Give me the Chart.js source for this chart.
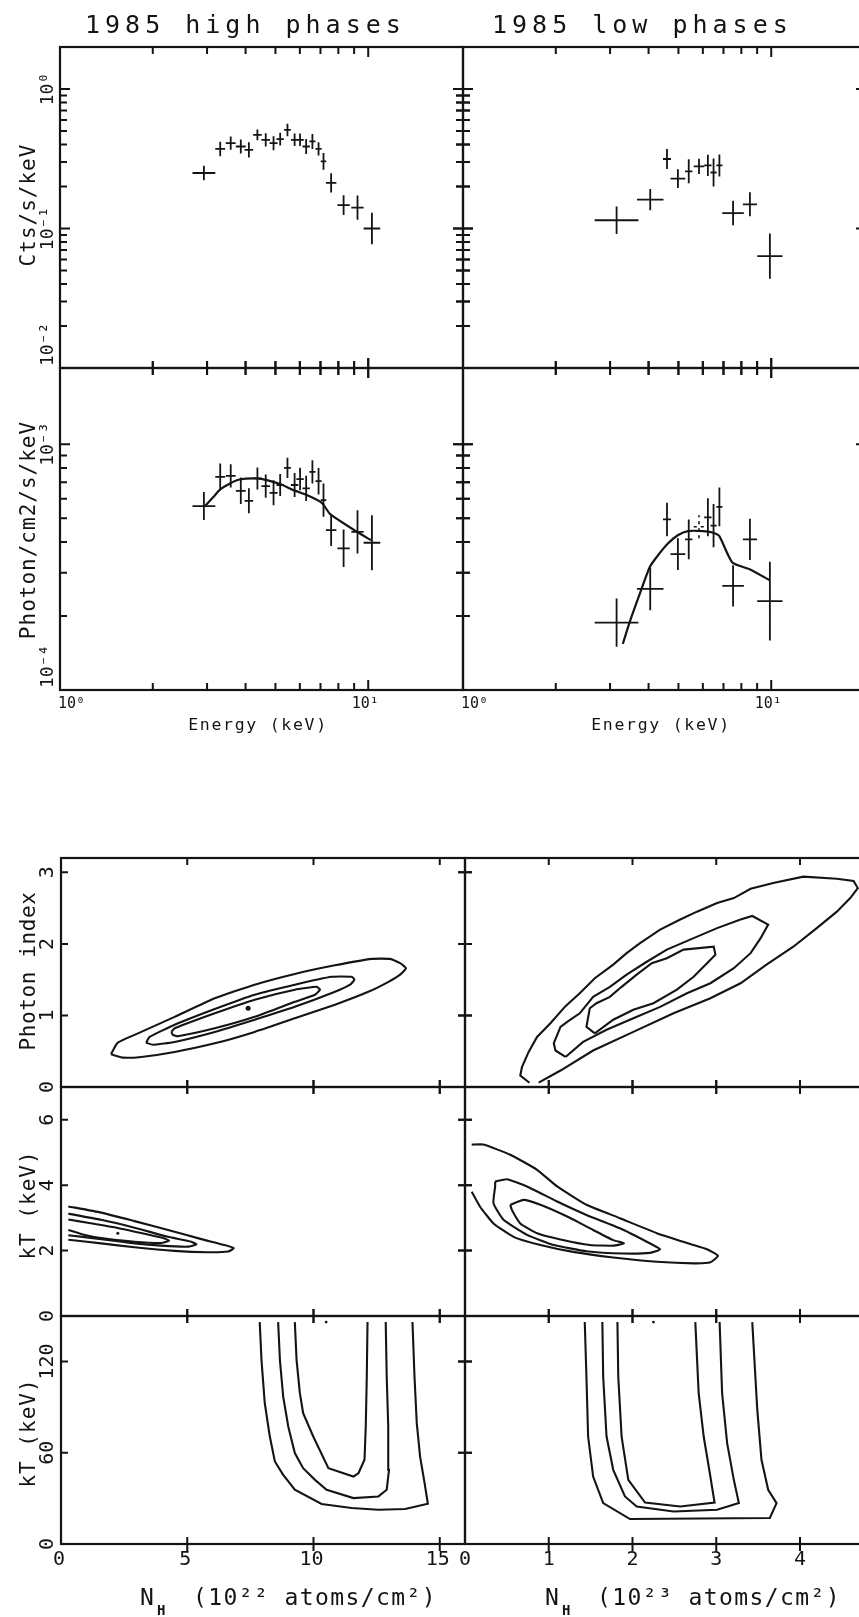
<!DOCTYPE html>
<html>
<head>
<meta charset="utf-8">
<title>1985 high / low phases</title>
<script src="https://cdn.jsdelivr.net/npm/chart.js@4.4.0/dist/chart.umd.min.js"></script>
<style>
  html, body { margin: 0; padding: 0; background: #fff; overflow: hidden; }
  #wrap { position: relative; width: 859px; height: 1617px; overflow: hidden; background: #fff; }
  #wrap canvas { position: absolute; left: 0; top: 0; }
</style>
</head>
<body>
<div id="wrap"></div>
<script>
'use strict';

/* ──────────────────────────────────────────────
   Spectra, 1985 high phases (energy in keV, errors in dex)
────────────────────────────────────────────── */
const hiEnergy    = [2.93, 3.31, 3.58, 3.86, 4.10, 4.37, 4.65, 4.93, 5.18, 5.47, 5.77, 6.01, 6.29, 6.59, 6.90, 7.16, 7.58, 8.32, 9.23, 10.28];
const hiEnergyErr = [0.037, 0.016, 0.016, 0.016, 0.014, 0.014, 0.014, 0.013, 0.012, 0.011, 0.012, 0.012, 0.012, 0.010, 0.010, 0.009, 0.017, 0.020, 0.020, 0.027];
const hiCounts    = [0.250, 0.372, 0.409, 0.387, 0.366, 0.469, 0.432, 0.409, 0.437, 0.509, 0.432, 0.432, 0.387, 0.421, 0.372, 0.303, 0.212, 0.147, 0.141, 0.100];
const hiCountsErr = [0.052, 0.052, 0.048, 0.050, 0.054, 0.038, 0.048, 0.050, 0.045, 0.045, 0.045, 0.045, 0.054, 0.054, 0.048, 0.060, 0.069, 0.071, 0.087, 0.113];
const hiFlux      = [5.60e-4, 7.36e-4, 7.43e-4, 6.46e-4, 5.88e-4, 7.25e-4, 6.75e-4, 6.34e-4, 6.82e-4, 8.01e-4, 6.82e-4, 7.21e-4, 6.61e-4, 7.71e-4, 7.07e-4, 5.92e-4, 4.47e-4, 3.77e-4, 4.40e-4, 3.97e-4];
const hiFluxErr   = [0.057, 0.054, 0.047, 0.054, 0.051, 0.045, 0.047, 0.051, 0.045, 0.041, 0.049, 0.046, 0.051, 0.047, 0.054, 0.068, 0.065, 0.076, 0.088, 0.112];
const hiModelE    = [2.96, 3.15, 3.31, 3.56, 3.82, 4.35, 4.69, 5.18, 5.72, 6.32, 7.07, 7.53, 9.19, 10.2];
const hiModelFlux = [5.61e-4, 6.11e-4, 6.54e-4, 6.92e-4, 7.18e-4, 7.25e-4, 7.14e-4, 6.88e-4, 6.50e-4, 6.21e-4, 5.77e-4, 5.19e-4, 4.40e-4, 4.07e-4];

/* Spectra, 1985 low phases */
const loEnergy    = [3.15, 4.05, 4.59, 4.98, 5.40, 5.83, 6.23, 6.50, 6.79, 7.52, 8.53, 9.90];
const loEnergyErr = [0.071, 0.043, 0.013, 0.024, 0.012, 0.017, 0.012, 0.010, 0.010, 0.035, 0.023, 0.041];
const loCounts    = [0.1146, 0.161, 0.315, 0.228, 0.257, 0.279, 0.283, 0.252, 0.283, 0.129, 0.149, 0.0634];
const loCountsErr = [0.098, 0.076, 0.071, 0.067, 0.086, 0.055, 0.076, 0.100, 0.079, 0.088, 0.086, 0.162];
const loFlux      = [1.88e-4, 2.58e-4, 4.94e-4, 3.57e-4, 4.10e-4, 4.61e-4, 5.04e-4, 4.66e-4, 5.56e-4, 2.65e-4, 4.10e-4, 2.30e-4];
const loFluxErr   = [0.098, 0.087, 0.068, 0.065, 0.081, 0.047, 0.077, 0.088, 0.079, 0.084, 0.084, 0.160];
const loFluxFaint = [5];   // the badly printed bin
const loModelE    = [3.30, 3.48, 3.75, 4.04, 4.30, 4.63, 4.99, 5.37, 6.01, 6.40, 6.77, 7.48, 8.51, 9.87];
const loModelFlux = [1.54e-4, 1.90e-4, 2.47e-4, 3.17e-4, 3.54e-4, 3.95e-4, 4.27e-4, 4.43e-4, 4.43e-4, 4.38e-4, 4.24e-4, 3.30e-4, 3.10e-4, 2.80e-4];

/* ──────────────────────────────────────────────
   Confidence contours [NH, parameter]
────────────────────────────────────────────── */
// photon index vs NH (1e22), high phases
const piHiOuter = [[1.98,0.46],[2.25,0.62],[3.18,0.77],[4.50,0.98],[6.09,1.24],[7.67,1.43],[9.26,1.58],[10.85,1.70],[12.31,1.79],[13.03,1.79],[13.43,1.73],[13.66,1.66],[13.43,1.57],[12.97,1.47],[12.17,1.33],[10.85,1.15],[9.26,0.96],[7.67,0.77],[6.09,0.61],[4.50,0.49],[3.18,0.42],[2.45,0.41],[2.05,0.45]];
const piHiMid   = [[3.37,0.62],[3.51,0.70],[4.50,0.87],[6.09,1.09],[7.67,1.29],[9.26,1.43],[10.72,1.54],[11.51,1.54],[11.62,1.50],[11.45,1.43],[10.85,1.33],[9.26,1.12],[7.67,0.94],[6.09,0.77],[4.50,0.63],[3.64,0.59]];
const piHiIn    = [[4.37,0.77],[4.50,0.82],[6.09,1.03],[7.67,1.22],[9.26,1.36],[10.12,1.40],[10.26,1.36],[10.06,1.29],[9.26,1.19],[7.67,0.98],[6.09,0.82],[4.63,0.71],[4.43,0.73]];
const piHiBest  = [[7.41,1.10]];

// photon index vs NH (1e23), low phases
const piLoOuter = [[0.77,0.06],[0.66,0.16],[0.68,0.28],[0.76,0.49],[0.86,0.70],[1.02,0.89],[1.20,1.13],[1.37,1.31],[1.55,1.52],[1.77,1.71],[1.93,1.87],[2.09,2.01],[2.33,2.20],[2.57,2.34],[2.77,2.45],[3.01,2.57],[3.21,2.64],[3.41,2.77],[3.68,2.85],[4.04,2.94],[4.44,2.91],[4.64,2.88],[4.69,2.78],[4.60,2.64],[4.44,2.45],[4.20,2.22],[3.92,1.96],[3.60,1.71],[3.29,1.45],[2.93,1.24],[2.49,1.03],[2.01,0.77],[1.53,0.51],[1.14,0.23],[0.88,0.06]];
const piLoMid   = [[1.20,0.42],[1.08,0.51],[1.06,0.61],[1.14,0.84],[1.22,0.91],[1.37,1.03],[1.53,1.26],[1.73,1.40],[1.93,1.57],[2.17,1.75],[2.41,1.92],[2.73,2.08],[3.01,2.22],[3.29,2.34],[3.43,2.39],[3.62,2.27],[3.53,2.08],[3.41,1.87],[3.21,1.66],[2.93,1.45],[2.65,1.31],[2.33,1.12],[2.01,0.96],[1.69,0.80],[1.41,0.63]];
const piLoIn    = [[1.55,0.75],[1.45,0.84],[1.49,1.10],[1.57,1.17],[1.73,1.26],[1.87,1.40],[2.05,1.57],[2.23,1.73],[2.41,1.80],[2.61,1.92],[2.97,1.96],[2.99,1.85],[2.89,1.73],[2.73,1.54],[2.53,1.36],[2.25,1.17],[2.01,1.08],[1.77,0.94]];

// kT (0-7 keV) vs NH, high phases
const ktHiOuter = [[0.29,3.35],[1.59,3.16],[2.91,2.90],[4.24,2.63],[5.56,2.35],[6.48,2.17],[6.84,2.07],[6.62,1.97],[5.82,1.95],[4.50,1.99],[2.91,2.10],[1.59,2.22],[0.29,2.33]];
const ktHiMid   = [[0.29,3.13],[1.59,2.94],[2.91,2.70],[4.24,2.42],[5.16,2.27],[5.36,2.19],[5.03,2.12],[3.97,2.15],[2.91,2.22],[1.59,2.35],[0.29,2.47]];
const ktHiIn    = [[0.29,2.95],[1.06,2.85],[2.25,2.69],[3.44,2.49],[4.10,2.37],[4.28,2.30],[3.97,2.23],[2.91,2.27],[1.59,2.38],[0.82,2.50],[0.29,2.63]];
const ktHiBest  = [[2.25,2.53]];

// kT (0-7 keV) vs NH, low phases
const ktLoOuter = [[0.08,5.24],[0.22,5.24],[0.54,4.93],[0.86,4.47],[1.10,3.96],[1.45,3.40],[1.85,2.99],[2.29,2.53],[2.69,2.20],[2.89,2.04],[3.02,1.84],[2.93,1.64],[2.73,1.61],[2.29,1.66],[1.77,1.79],[1.29,1.96],[0.90,2.17],[0.58,2.42],[0.34,2.83],[0.18,3.34],[0.08,3.80]];
const ktLoMid   = [[0.36,4.11],[0.50,4.18],[0.74,3.96],[1.10,3.50],[1.45,3.09],[1.85,2.68],[2.17,2.27],[2.33,2.04],[2.21,1.93],[1.89,1.91],[1.45,1.98],[1.06,2.17],[0.74,2.48],[0.46,2.94],[0.34,3.45],[0.36,3.96]];
const ktLoIn    = [[0.54,3.40],[0.70,3.55],[0.90,3.40],[1.22,3.04],[1.53,2.63],[1.77,2.32],[1.90,2.22],[1.77,2.15],[1.49,2.17],[1.14,2.34],[0.86,2.53],[0.66,2.83],[0.56,3.24]];

// kT (0-150 keV) vs NH, high phases
const kthHiOuter = [[7.87,146],[7.94,121],[8.07,92.6],[8.27,70.7],[8.47,54.3],[8.80,45.5],[9.26,35.7],[10.32,26.3],[11.51,23.7],[12.57,22.5],[13.63,23.0],[14.53,26.5],[14.40,40.1],[14.22,57.6],[14.09,79.5],[14.00,110],[13.92,146]];
const kthHiMid   = [[8.60,146],[8.67,121],[8.80,97],[9.00,77.3],[9.26,59.8],[9.59,49.9],[10.06,42.2],[10.52,35.7],[11.58,30.2],[12.57,31.3],[12.90,35.7],[12.99,48.8],[12.96,77.3],[12.90,110],[12.86,146]];
const kthHiIn    = [[9.26,146],[9.33,121],[9.46,99.2],[9.59,86.1],[9.99,70.7],[10.59,49.9],[11.58,44.4],[11.78,46.6],[12.02,55.4],[12.07,77.3],[12.11,110],[12.14,146]];
const kthHiBest  = [[10.5,146]];

// kT (0-150 keV) vs NH, low phases
const kthLoOuter = [[1.43,146],[1.45,110],[1.47,70.7],[1.53,44.4],[1.65,26.9],[1.97,16.4],[3.64,17.1],[3.72,26.9],[3.62,35.7],[3.54,55.4],[3.49,88.2],[3.43,146]];
const kthLoMid   = [[1.64,146],[1.65,110],[1.69,70.7],[1.77,48.8],[1.91,31.3],[2.05,24.7],[2.49,21.4],[3.01,22.5],[3.27,26.9],[3.21,42.2],[3.13,66.4],[3.07,99.2],[3.04,146]];
const kthLoIn    = [[1.82,146],[1.83,110],[1.87,70.7],[1.95,42.2],[2.15,27.3],[2.57,24.7],[2.98,27.3],[2.91,51.0],[2.85,70.7],[2.79,99.2],[2.75,146]];
const kthLoBest  = [[2.25,146]];

/* ──────────────────────────────────────────────
   Ticks and tick labels
────────────────────────────────────────────── */
const eMinor      = [2, 3, 4, 5, 6, 7, 8, 9];
const eMajor      = [10];
const eLabelVals  = [1, 10];
const eLabels     = ['10⁰', '10¹'];
const ctsMinor    = [0.02, 0.03, 0.04, 0.05, 0.06, 0.07, 0.08, 0.09, 0.2, 0.3, 0.4, 0.5, 0.6, 0.7, 0.8, 0.9];
const ctsMajor    = [0.1, 1];
const ctsLabelVals = [0.01, 0.1, 1];
const ctsLabels   = ['10⁻²', '10⁻¹', '10⁰'];
const fluxMinor   = [2e-4, 3e-4, 4e-4, 5e-4, 6e-4, 7e-4, 8e-4, 9e-4];
const fluxMajor   = [1e-3];
const fluxLabelVals = [1e-4, 1e-3];
const fluxLabels  = ['10⁻⁴', '10⁻³'];
const nhHiTicks   = [0, 5, 10, 15];
const nhLoTicks   = [0, 1, 2, 3, 4];
const piTicks     = [0, 1, 2, 3];
const ktTicks     = [0, 2, 4, 6];
const kthTicks    = [0, 60, 120];

/* ──────────────────────────────────────────────
   Look
────────────────────────────────────────────── */
const PAGE_W = 880, PAGE_H = 1617;
const INK = '#141414';
const MONO = '"DejaVu Sans Mono", "Liberation Mono", monospace';
const wrap = document.getElementById('wrap');

const specX = { type: 'logarithmic', min: 1, max: 20.3 };
const ctsY  = { type: 'logarithmic', min: 0.01, max: 2 };
const fluxY = { type: 'logarithmic', min: 1e-4, max: 2.04e-3 };
const nhHiX = { type: 'linear', min: 0, max: 16 };
const nhLoX = { type: 'linear', min: 0, max: 4.8 };
const piY   = { type: 'linear', min: 0, max: 3.2 };
const ktY   = { type: 'linear', min: 0, max: 7 };
const kthY  = { type: 'linear', min: 0, max: 150 };

// error crosses: one broken line, each bar separated by a null gap
function crosses(xs, xdex, ys, ydex, pick) {
    const pts = [];
    xs.forEach(function (x, i) {
        if (pick && !pick(i)) return;
        const fx = Math.pow(10, xdex[i]), fy = Math.pow(10, ydex[i]);
        pts.push({ x: x / fx, y: ys[i] }, { x: x * fx, y: ys[i] }, { x: x, y: null });
        pts.push({ x: x, y: ys[i] / fy }, { x: x, y: ys[i] * fy }, { x: x, y: null });
    });
    return pts;
}
const pairs = (xs, ys) => xs.map((x, i) => ({ x: x, y: ys[i] }));
function curve(pts, closed) {
    const d = pts.map(p => ({ x: p[0], y: p[1] }));
    if (closed) d.push({ x: pts[0][0], y: pts[0][1] });
    return d;
}
function lineSet(data, width, tension, dash) {
    return {
        data: data, showLine: true, borderColor: INK, borderWidth: width,
        borderDash: dash || [], pointRadius: 0, tension: tension || 0,
        spanGaps: false, fill: false, borderCapStyle: 'butt'
    };
}
function dotSet(pts, r) {
    return { data: curve(pts), showLine: false, pointRadius: r, pointBackgroundColor: INK, pointBorderWidth: 0 };
}

function text(ctx, s, x, y, font, o) {
    o = o || {};
    ctx.save();
    ctx.fillStyle = INK;
    ctx.font = font + ' ' + MONO;
    if ('letterSpacing' in ctx) ctx.letterSpacing = o.ls || '0px';
    ctx.textAlign = o.align || 'center';
    ctx.textBaseline = 'alphabetic';
    ctx.translate(x, y);
    if (o.rot) ctx.rotate(-Math.PI / 2);
    ctx.fillText(s, 0, 0);
    ctx.restore();
}

// frame, ticks and labels of one paper-style panel
function axesPlugin(cfg) {
    return {
        id: 'paperAxes',
        afterDatasetsDraw(chart) {
            const ctx = chart.ctx, a = chart.chartArea;
            const sx = chart.scales.x, sy = chart.scales.y, s = cfg.sides;
            ctx.save();
            ctx.strokeStyle = INK;
            ctx.lineWidth = 2.2;
            ctx.strokeRect(a.left, a.top, a.right - a.left, a.bottom - a.top);

            ctx.beginPath();
            ctx.lineWidth = 2;
            const tickX = (vals, len) => vals.forEach(function (v) {
                const p = sx.getPixelForValue(v);
                if (s.top)    { ctx.moveTo(p, a.top + len);    ctx.lineTo(p, s.top === 'both' ? a.top - len : a.top); }
                if (s.bottom) { ctx.moveTo(p, a.bottom - len); ctx.lineTo(p, s.bottom === 'both' ? a.bottom + len : a.bottom); }
            });
            const tickY = (vals, len) => vals.forEach(function (v) {
                const p = sy.getPixelForValue(v);
                if (s.left)  { ctx.moveTo(a.left + len, p);  ctx.lineTo(s.left === 'both' ? a.left - len : a.left, p); }
                if (s.right) { ctx.moveTo(a.right - len, p); ctx.lineTo(s.right === 'both' ? a.right + len : a.right, p); }
            });
            tickX(cfg.xMinor || [], cfg.len[0]);
            tickX(cfg.xMajor || [], cfg.len[1]);
            tickY(cfg.yMinor || [], cfg.len[0]);
            tickY(cfg.yMajor || [], cfg.len[1]);
            ctx.stroke();

            if (cfg.yLabels) {
                const L = cfg.yLabels;
                L.vals.forEach(function (v, i) {
                    let p = sy.getPixelForValue(v), align = 'center';
                    if (L.edge && i === 0) { p -= 2; align = 'left'; }
                    text(ctx, L.text[i], L.x, p, L.font, { rot: true, align: align, ls: L.ls });
                });
            }
            if (cfg.xLabels) {
                const L = cfg.xLabels;
                L.vals.forEach(function (v, i) {
                    let p = sx.getPixelForValue(v) + (L.dx || 0), align = 'center';
                    if (L.firstLeft && i === 0) { p = a.left - 2; align = 'left'; }
                    text(ctx, L.text[i], p, L.y, L.font, { align: align });
                });
            }
            (cfg.texts || []).forEach(t => text(ctx, t.s, t.x, t.y, t.font, t));
            ctx.restore();
        }
    };
}

function panel(rect, xScale, yScale, datasets, cfg) {
    const cv = document.createElement('canvas');
    cv.width = PAGE_W; cv.height = PAGE_H;
    wrap.appendChild(cv);
    return new Chart(cv, {
        type: 'scatter',
        data: { datasets: datasets },
        options: {
            responsive: false,
            animation: false,
            events: [],
            layout: { padding: { left: rect[0], top: rect[1], right: PAGE_W - rect[2], bottom: PAGE_H - rect[3] } },
            plugins: { legend: { display: false }, tooltip: { enabled: false } },
            scales: {
                x: Object.assign({ display: false }, xScale),
                y: Object.assign({ display: false }, yScale)
            }
        },
        plugins: [axesPlugin(cfg)]
    });
}

/* ──────────────────────────────────────────────
   Spectra panels
────────────────────────────────────────────── */
const SPEC_LEN = [7, 10];

panel([60, 47, 463, 368], specX, ctsY,
    [lineSet(crosses(hiEnergy, hiEnergyErr, hiCounts, hiCountsErr), 1.8)],
    {
        sides: { top: 'in', bottom: 'both', left: 'in', right: 'both' }, len: SPEC_LEN,
        xMinor: eMinor, xMajor: eMajor, yMinor: ctsMinor, yMajor: ctsMajor,
        yLabels: { vals: ctsLabelVals, text: ctsLabels, x: 53, font: '18px', edge: true },
        texts: [
            { s: '1985 high phases', x: 85, y: 33, font: '25px', ls: '5px', align: 'left' },
            { s: 'Cts/s/keV', x: 35, y: 205, font: '21px', ls: '1px', rot: true }
        ]
    });

panel([463, 47, 866, 368], specX, ctsY,
    [lineSet(crosses(loEnergy, loEnergyErr, loCounts, loCountsErr), 1.8)],
    {
        sides: { top: 'in', bottom: 'both', left: 'both', right: 'in' }, len: SPEC_LEN,
        xMinor: eMinor, xMajor: eMajor, yMinor: ctsMinor, yMajor: ctsMajor,
        texts: [{ s: '1985 low phases', x: 492, y: 33, font: '25px', ls: '5px', align: 'left' }]
    });

panel([60, 368, 463, 690], specX, fluxY,
    [lineSet(crosses(hiEnergy, hiEnergyErr, hiFlux, hiFluxErr), 1.8),
     lineSet(pairs(hiModelE, hiModelFlux), 2.2, 0.2)],
    {
        sides: { top: 'both', bottom: 'in', left: 'in', right: 'both' }, len: SPEC_LEN,
        xMinor: eMinor, xMajor: eMajor, yMinor: fluxMinor, yMajor: fluxMajor,
        yLabels: { vals: fluxLabelVals, text: fluxLabels, x: 53, font: '18px', edge: true },
        xLabels: { vals: eLabelVals, text: eLabels, y: 708, font: '15px', dx: -3, firstLeft: true },
        texts: [
            { s: 'Photon/cm2/s/keV', x: 35, y: 530, font: '21px', ls: '1px', rot: true },
            { s: 'Energy (keV)', x: 258, y: 730, font: '16.5px', ls: '1.7px' }
        ]
    });

panel([463, 368, 866, 690], specX, fluxY,
    [lineSet(crosses(loEnergy, loEnergyErr, loFlux, loFluxErr, i => loFluxFaint.indexOf(i) < 0), 1.8),
     lineSet(crosses(loEnergy, loEnergyErr, loFlux, loFluxErr, i => loFluxFaint.indexOf(i) >= 0), 1.6, 0, [3, 4]),
     lineSet(pairs(loModelE, loModelFlux), 2.2, 0.2)],
    {
        sides: { top: 'both', bottom: 'in', left: 'both', right: 'in' }, len: SPEC_LEN,
        xMinor: eMinor, xMajor: eMajor, yMinor: fluxMinor, yMajor: fluxMajor,
        xLabels: { vals: eLabelVals, text: eLabels, y: 708, font: '15px', dx: -3, firstLeft: true },
        texts: [{ s: 'Energy (keV)', x: 661, y: 730, font: '16.5px', ls: '1.7px' }]
    });

/* ──────────────────────────────────────────────
   Contour panels
────────────────────────────────────────────── */
const CON_LEN = [7, 7];
const ROW_PI = [858, 1087], ROW_KT = [1087, 1316], ROW_KTH = [1316, 1544];
const contourSets = (o, m, i, t) => [lineSet(curve(o, t.closedOuter), 2.1, t.k),
                                     lineSet(curve(m, t.closed), 2.1, t.k),
                                     lineSet(curve(i, t.closed), 2.1, t.k)];

panel([61, ROW_PI[0], 465, ROW_PI[1]], nhHiX, piY,
    contourSets(piHiOuter, piHiMid, piHiIn, { closedOuter: true, closed: true, k: 0.15 }).concat([dotSet(piHiBest, 2.5)]),
    {
        sides: { top: 'in', bottom: 'both', left: 'in', right: 'both' }, len: CON_LEN,
        xMajor: nhHiTicks.slice(1), yMajor: piTicks.slice(1),
        yLabels: { vals: piTicks, text: piTicks.map(String), x: 53, font: '20px' },
        texts: [{ s: 'Photon index', x: 35, y: 971, font: '21px', ls: '0.6px', rot: true }]
    });

panel([465, ROW_PI[0], 867, ROW_PI[1]], nhLoX, piY,
    contourSets(piLoOuter, piLoMid, piLoIn, { closedOuter: false, closed: true, k: 0 }),
    {
        sides: { top: 'in', bottom: 'both', left: 'both', right: 'in' }, len: CON_LEN,
        xMajor: nhLoTicks.slice(1), yMajor: piTicks.slice(1)
    });

panel([61, ROW_KT[0], 465, ROW_KT[1]], nhHiX, ktY,
    contourSets(ktHiOuter, ktHiMid, ktHiIn, { closedOuter: false, closed: false, k: 0.15 }).concat([dotSet(ktHiBest, 1.5)]),
    {
        sides: { top: 'both', bottom: 'both', left: 'in', right: 'both' }, len: CON_LEN,
        xMajor: nhHiTicks.slice(1), yMajor: ktTicks.slice(1),
        yLabels: { vals: ktTicks, text: ktTicks.map(String), x: 53, font: '20px' },
        texts: [{ s: 'kT (keV)', x: 35, y: 1205, font: '21px', ls: '1px', rot: true }]
    });

panel([465, ROW_KT[0], 867, ROW_KT[1]], nhLoX, ktY,
    contourSets(ktLoOuter, ktLoMid, ktLoIn, { closedOuter: false, closed: true, k: 0.15 }),
    {
        sides: { top: 'both', bottom: 'both', left: 'both', right: 'in' }, len: CON_LEN,
        xMajor: nhLoTicks.slice(1), yMajor: ktTicks.slice(1)
    });

panel([61, ROW_KTH[0], 465, ROW_KTH[1]], nhHiX, kthY,
    contourSets(kthHiOuter, kthHiMid, kthHiIn, { closedOuter: false, closed: false, k: 0 }).concat([dotSet(kthHiBest, 1.4)]),
    {
        sides: { top: 'both', bottom: 'both', left: 'in', right: 'both' }, len: CON_LEN,
        xMajor: nhHiTicks.slice(1), yMajor: kthTicks.slice(1),
        yLabels: { vals: kthTicks, text: kthTicks.map(String), x: 53, font: '20px' },
        xLabels: { vals: nhHiTicks, text: nhHiTicks.map(String), y: 1565, font: '20px', dx: -2 },
        texts: [
            { s: 'kT (keV)', x: 35, y: 1433, font: '21px', ls: '1px', rot: true },
            { s: 'N', x: 140, y: 1605, font: '23px', align: 'left' },
            { s: 'H', x: 157, y: 1615, font: 'bold 14px', align: 'left' },
            { s: '(10²² atoms/cm²)', x: 193, y: 1605, font: '23px', ls: '1.4px', align: 'left' }
        ]
    });

panel([465, ROW_KTH[0], 867, ROW_KTH[1]], nhLoX, kthY,
    contourSets(kthLoOuter, kthLoMid, kthLoIn, { closedOuter: false, closed: false, k: 0 }).concat([dotSet(kthLoBest, 1.4)]),
    {
        sides: { top: 'both', bottom: 'both', left: 'both', right: 'in' }, len: CON_LEN,
        xMajor: nhLoTicks.slice(1), yMajor: kthTicks.slice(1),
        xLabels: { vals: nhLoTicks, text: nhLoTicks.map(String), y: 1565, font: '20px', dx: 0 },
        texts: [
            { s: 'N', x: 545, y: 1605, font: '23px', align: 'left' },
            { s: 'H', x: 562, y: 1615, font: 'bold 14px', align: 'left' },
            { s: '(10²³ atoms/cm²)', x: 597, y: 1605, font: '23px', ls: '1.4px', align: 'left' }
        ]
    });
</script>
</body>
</html>
